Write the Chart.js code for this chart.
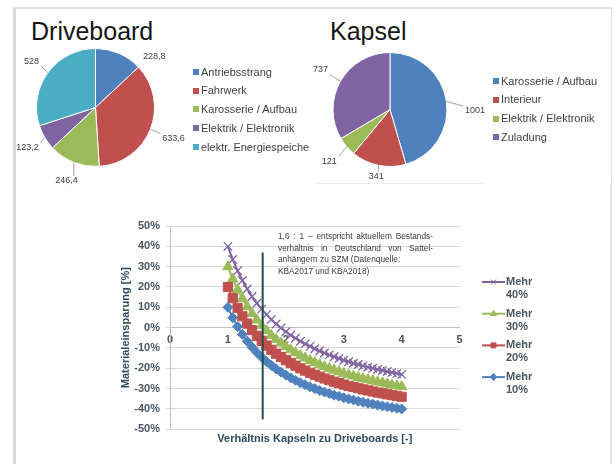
<!DOCTYPE html>
<html lang="de">
<head>
<meta charset="utf-8">
<title>Driveboard / Kapsel – Materialeinsparung</title>
<script src="https://cdn.jsdelivr.net/npm/chart.js@4.4.1/dist/chart.umd.min.js"></script>
<style>
  html, body { margin: 0; padding: 0; background: #fff; }
  body { width: 614px; height: 464px; position: relative; overflow: hidden; font-family: "Liberation Sans", Arial, sans-serif; }
  .abs { position: absolute; }
  #frame { left: 13px; top: 7px; width: 594px; height: 470px; border-top: 2px solid #e3e3e3; border-left: 3px solid #d9d9d9; border-right: 2px solid #e3e3e3; }
  .pie-title { font-size: 25px; line-height: 25px; color: #151515; }
  .legend { font-size: 11px; color: #404040; }
  .legend div { position: relative; height: 18.75px; line-height: 18.75px; padding-left: 8px; white-space: nowrap; }
  .legend i { position: absolute; left: 0; top: 6.4px; width: 6px; height: 6px; }
  #kapselBox { left: 309px; top: 9px; width: 302px; height: 174px; background: #fff; z-index: 2; }
  #note { left: 278px; top: 231px; width: 155px; font-size: 8.3px; line-height: 11.5px; color: #3a3a3a; z-index: 4; }
  #note div { white-space: nowrap; }
  #note .j { text-align: justify; text-align-last: justify; white-space: normal; }
</style>
</head>
<body>
<div id="frame" class="abs"></div>

<div class="abs pie-title" style="left:31px; top:19px;">Driveboard</div>
<canvas id="pieDrive" class="abs" width="180" height="148" style="left:14px; top:40px; z-index:1;"></canvas>
<div id="legendDrive" class="abs legend" style="left:193px; top:62.6px; z-index:1;"></div>

<div id="kapselBox" class="abs"></div>
<div class="abs" style="left:315px; top:183px; width:170px; height:1px; background:#ececec; z-index:3;"></div>
<div class="abs pie-title" style="left:330px; top:19px; z-index:3;">Kapsel</div>
<canvas id="pieKapsel" class="abs" width="200" height="148" style="left:305px; top:40px; z-index:3;"></canvas>
<div id="legendKapsel" class="abs legend" style="left:493px; top:71.7px; z-index:3;"></div>

<canvas id="savingChart" class="abs" width="510" height="260" style="left:100px; top:200px; z-index:3;"></canvas>
<div id="note" class="abs">
  <div class="j">1,6 : 1 – entspricht aktuellem Bestands-</div>
  <div class="j">verhältnis in Deutschland von Sattel-</div>
  <div>anhängern zu SZM (Datenquelle:</div>
  <div>KBA2017 und KBA2018)</div>
</div>

<script>
// Massen je Baugruppe (Tortendiagramme)
const driveLabels = ['Antriebsstrang', 'Fahrwerk', 'Karosserie / Aufbau', 'Elektrik / Elektronik', 'elektr. Energiespeicher'];
const driveValues = [228.8, 633.6, 246.4, 123.2, 528];
const kapselLabels = ['Karosserie / Aufbau', 'Interieur', 'Elektrik / Elektronik', 'Zuladung'];
const kapselValues = [1001, 341, 121, 737];

// Materialeinsparung [%] über Verhältnis Kapseln zu Driveboards
const ratio = [1.0, 1.083, 1.167, 1.25, 1.333, 1.417, 1.5, 1.583, 1.667, 1.75, 1.833, 1.917,
  2.0, 2.083, 2.167, 2.25, 2.333, 2.417, 2.5, 2.583, 2.667, 2.75, 2.833, 2.917,
  3.0, 3.083, 3.167, 3.25, 3.333, 3.417, 3.5, 3.583, 3.667, 3.75, 3.833, 3.917, 4.0];
const mehr10 = [10.0, 4.9, 0.5, -3.3, -6.7, -9.6, -12.2, -14.5, -16.7, -18.6, -20.3, -21.9,
  -23.3, -24.7, -25.9, -27.1, -28.1, -29.1, -30.0, -30.9, -31.7, -32.4, -33.2, -33.8,
  -34.5, -35.1, -35.6, -36.2, -36.7, -37.2, -37.6, -38.1, -38.5, -38.9, -39.3, -39.7, -40.0];
const mehr20 = [20.0, 14.5, 9.7, 5.6, 2.0, -1.2, -4.0, -6.5, -8.8, -10.9, -12.8, -14.4,
  -16.0, -17.4, -18.7, -20.0, -21.1, -22.2, -23.2, -24.1, -25.0, -25.8, -26.6, -27.3,
  -28.0, -28.7, -29.2, -29.8, -30.4, -30.9, -31.4, -31.9, -32.3, -32.8, -33.2, -33.6, -34.0];
const mehr30 = [30.0, 23.9, 18.7, 14.3, 10.3, 6.9, 3.8, 1.0, -1.5, -3.8, -5.8, -7.6,
  -9.3, -10.9, -12.3, -13.8, -14.9, -16.1, -17.2, -18.2, -19.2, -20.1, -20.9, -21.7,
  -22.5, -23.2, -23.8, -24.5, -25.1, -25.6, -26.2, -26.7, -27.2, -27.7, -28.2, -28.6, -29.0];
const mehr40 = [40.0, 33.5, 28.0, 23.2, 19.0, 15.3, 12.0, 9.1, 6.4, 4.0, 1.8, -0.2,
  -2.0, -3.7, -5.2, -6.7, -8.0, -9.2, -10.4, -11.5, -12.5, -13.4, -14.3, -15.2,
  -16.0, -16.8, -17.5, -18.1, -18.8, -19.4, -20.0, -20.6, -21.1, -21.6, -22.1, -22.6, -23.0];
const seriesNames = ['Mehr 10%', 'Mehr 20%', 'Mehr 30%', 'Mehr 40%'];

// Bestandsverhältnis 1,6 : 1 als senkrechte Linie
const bestandRatio = 1.6;
const bestandSpan = [37, -45];

const FONT = '"Liberation Sans", Arial, sans-serif';
const pieColours = ['#4F81BD', '#C0504D', '#9BBB59', '#8064A2', '#4BACC6'];

// Werte an den Tortenstücken, mit Führungslinie wenn das Label weiter weg liegt
const pieLabels = {
  id: 'pieLabels',
  afterDatasetsDraw(chart, args, opts) {
    const ctx = chart.ctx;
    const values = chart.data.datasets[0].data;
    ctx.save();
    ctx.font = '9px ' + FONT;
    ctx.fillStyle = '#404040';
    ctx.strokeStyle = '#8c8c8c';
    ctx.lineWidth = 0.8;
    ctx.textAlign = 'center';
    ctx.textBaseline = 'middle';
    chart.getDatasetMeta(0).data.forEach((arc, i) => {
      const p = arc.getProps(['x', 'y', 'startAngle', 'endAngle', 'outerRadius'], true);
      const o = (opts.overrides || {})[i] || {};
      const mid = (p.startAngle + p.endAngle) / 2;
      const ang = o.angle !== undefined ? (o.angle - 90) * Math.PI / 180 : mid;
      const dist = p.outerRadius + (o.gap !== undefined ? o.gap : opts.gap);
      const lx = p.x + Math.cos(ang) * dist;
      const ly = p.y + Math.sin(ang) * dist;
      const text = String(values[i]).replace('.', ',');
      const w = ctx.measureText(text).width;
      const ex = p.x + Math.cos(mid) * p.outerRadius;
      const ey = p.y + Math.sin(mid) * p.outerRadius;
      const px = Math.min(Math.max(ex, lx - w / 2 - 2), lx + w / 2 + 2);
      const py = Math.min(Math.max(ey, ly - 5), ly + 5);
      if (o.line !== false && Math.hypot(px - ex, py - ey) > 5) {
        ctx.beginPath();
        ctx.moveTo(ex, ey);
        ctx.lineTo(px, py);
        ctx.stroke();
      }
      ctx.fillText(text, lx, ly);
    });
    ctx.restore();
  }
};

function makePie(id, labels, values, padding, labelOpts) {
  return new Chart(document.getElementById(id), {
    type: 'pie',
    data: {
      labels: labels,
      datasets: [{ data: values, backgroundColor: pieColours.slice(0, values.length), borderColor: '#fff', borderWidth: 1 }]
    },
    options: {
      responsive: false,
      animation: false,
      layout: { padding: padding },
      plugins: { legend: { display: false }, tooltip: { enabled: false }, pieLabels: labelOpts }
    },
    plugins: [pieLabels]
  });
}

function buildLegend(id, labels) {
  document.getElementById(id).innerHTML = labels.map((l, i) =>
    `<div><i style="background:${pieColours[i]}"></i>${l}</div>`).join('');
}

// Legende rechts neben dem Liniendiagramm, zweizeilig wie im Original
const sideLegend = {
  id: 'sideLegend',
  afterDraw(chart, args, opts) {
    const { ctx, chartArea } = chart;
    const x0 = chartArea.right + opts.offsetX;
    let y = chartArea.top + opts.offsetY;
    ctx.save();
    ctx.font = 'bold 11px ' + FONT;
    ctx.textBaseline = 'middle';
    ctx.textAlign = 'left';
    const items = chart.data.datasets.filter(d => d.inLegend).reverse();
    items.forEach(ds => {
      ctx.strokeStyle = ds.borderColor;
      ctx.fillStyle = ds.backgroundColor;
      ctx.lineWidth = 2;
      ctx.beginPath();
      ctx.moveTo(x0, y);
      ctx.lineTo(x0 + 23, y);
      ctx.stroke();
      ctx.lineWidth = 1;
      Chart.helpers.drawPoint(ctx, { pointStyle: ds.pointStyle, radius: 3.5, rotation: 0, borderWidth: 1 }, x0 + 11.5, y);
      const parts = ds.label.split(' ');
      ctx.fillStyle = '#4a5560';
      ctx.fillText(parts[0], x0 + 24, y);
      ctx.fillText(parts[1], x0 + 24, y + 13);
      y += opts.step;
    });
    ctx.restore();
  }
};

function series(values, i, colour, style, radius) {
  return {
    label: seriesNames[i],
    inLegend: true,
    data: ratio.map((r, k) => ({ x: r, y: values[k] })),
    borderColor: colour,
    backgroundColor: colour,
    borderWidth: 2,
    pointStyle: style,
    pointRadius: radius,
    pointBorderWidth: style === 'crossRot' ? 1.3 : 1,
    pointBackgroundColor: colour,
    pointBorderColor: colour,
    tension: 0
  };
}

function init() {
  makePie('pieDrive', driveLabels, driveValues, { left: 22, top: 8, right: 39, bottom: 21 },
    { gap: 20, overrides: { 0: { angle: 49, gap: 19, line: false }, 1: { gap: 25 } } });
  makePie('pieKapsel', kapselLabels, kapselValues, { left: 27.5, top: 12, right: 57.5, bottom: 21 },
    { gap: 23, overrides: { 0: { angle: 91, gap: 28 }, 1: { gap: 11 } } });
  buildLegend('legendDrive', driveLabels);
  buildLegend('legendKapsel', kapselLabels);

  const tickFont = { family: FONT, size: 11, weight: 'bold' };
  new Chart(document.getElementById('savingChart'), {
    type: 'line',
    data: {
      datasets: [
        {
          label: 'Bestand',
          data: bestandSpan.map(v => ({ x: bestandRatio, y: v })),
          borderColor: '#1d4c50',
          borderWidth: 2,
          pointRadius: 0
        },
        series(mehr10, 0, '#4F81BD', 'rectRot', 5),
        series(mehr20, 1, '#C0504D', 'rect', 6.5),
        series(mehr30, 2, '#9BBB59', 'triangle', 6),
        series(mehr40, 3, '#8064A2', 'crossRot', 6)
      ]
    },
    options: {
      responsive: false,
      animation: false,
      layout: { padding: { left: 15, top: 26, right: 150.4, bottom: 0 } },
      scales: {
        x: {
          type: 'linear',
          position: { y: 0 },
          min: 0, max: 5,
          grid: { display: false, drawTicks: false },
          border: { color: '#bfbfbf', width: 1 },
          ticks: { stepSize: 1, padding: 6, color: '#4a5560', font: tickFont }
        },
        y: {
          min: -50, max: 50,
          grid: { color: '#d9d9d9', tickLength: 4 },
          border: { color: '#bfbfbf', width: 1 },
          ticks: { stepSize: 10, padding: 6, color: '#4a5560', font: tickFont, callback: v => v + '%' },
          title: { display: true, text: 'Materialeinsparung [%]', color: '#2e4a5c', font: tickFont },
          afterFit: s => { s.width = 55; }
        }
      },
      plugins: {
        legend: { display: false },
        tooltip: { enabled: false },
        title: {
          display: true,
          position: 'bottom',
          fullSize: false,
          text: 'Verhältnis Kapseln zu Driveboards [-]',
          color: '#2e4a5c',
          font: tickFont,
          padding: { top: 3.1, bottom: 14.4 }
        },
        sideLegend: { offsetX: 22.4, offsetY: 56, step: 31.7 }
      }
    },
    plugins: [sideLegend]
  });
}

init();
</script>
</body>
</html>
